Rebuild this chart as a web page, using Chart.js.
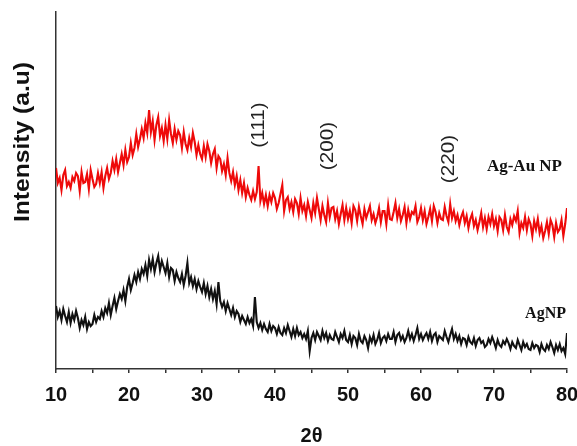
<!DOCTYPE html>
<html>
<head>
<meta charset="utf-8">
<script src="https://cdn.jsdelivr.net/npm/chart.js@4.4.1/dist/chart.umd.min.js"></script>
<style>
  html, body { margin: 0; padding: 0; background: #fff; }
  canvas { display: block; }
</style>
</head>
<body>
<canvas id="xrdChart" width="577" height="446"></canvas>
<script>
// scan grid: 2θ from 10 to 80 in 0.25 steps
const twoThetaStart = 10;
const twoThetaStep = 0.25;
const xTicks = [10, 20, 30, 40, 50, 60, 70, 80];

// Ag-Au NP intensity (a.u., offset trace), one group of 4 per degree
const agAuNP = [
  201, 186, 191, 179,  194, 199, 183, 187,  181, 192, 188, 196,  193, 178, 197, 186,
  187, 195, 180, 199,  190, 182, 185, 196,  186, 197, 181, 193,  201, 190, 196, 208,
  199, 210, 197, 206,  215, 204, 219, 207,  212, 226, 214, 221,  235, 222, 230, 240,
  231, 246, 236, 259,  237, 248, 229, 244,  252, 233, 241, 228,  244, 230, 249, 235,
  226, 240, 229, 238,  234, 221, 237, 225,  219, 231, 222, 236,  227, 214, 224, 215,
  210, 223, 212, 225,  218, 206, 215, 220,  201, 213, 210, 198,  205, 194, 211, 196,
  188, 197, 184, 193,  179, 189, 176, 186,  172, 181, 174, 169,  178, 170, 177, 203,
  168, 176, 165, 174,  163, 174, 167, 176,  171, 160, 166, 175,  184, 158, 169, 172,
  160, 167, 157, 170,  166, 155, 171, 158,  164, 153, 167, 159,  151, 166, 156, 171,
  160, 149, 163, 154,  147, 166, 152, 161,  162, 150, 158, 145,  155, 164, 149, 161,
  150, 158, 146, 163,  159, 148, 162, 153,  145, 160, 151, 157,  163, 149, 155, 146,
  152, 161, 147, 158,  158, 145, 164, 150,  149, 157, 166, 151,  160, 148, 154, 162,
  146, 159, 150, 157,  155, 163, 147, 152,  161, 149, 158, 145,  152, 160, 148, 163,
  157, 146, 156, 150,  149, 162, 153, 147,  165, 151, 158, 148,  154, 144, 152, 157,
  146, 153, 141, 150,  155, 143, 149, 139,  147, 156, 142, 151,  140, 152, 145, 155,
  143, 150, 138, 152,  149, 139, 154, 142,  137, 150, 144, 153,  148, 158, 136, 146,
  141, 152, 139, 150,  145, 133, 148, 140,  150, 136, 143, 131,  138, 147, 135, 149,
  144, 132, 146, 137,  140, 149, 133, 145,
  161
];

// AgNP intensity (a.u., offset trace)
const agNP = [
  63, 52, 58, 49,  60, 53, 47, 57,  46, 55, 49, 58,  51, 41, 49, 44,
  52, 40, 47, 43,  45, 54, 47, 52,  50, 58, 52, 61,  56, 66, 54, 63,
  71, 60, 68, 75,  70, 79, 68, 82,  90, 79, 86, 94,  87, 97, 90, 100,
  95, 104, 93, 109,  100, 110, 97, 106,  113, 99, 108, 102,  96, 106, 92, 101,
  99, 88, 97, 91,  87, 95, 84, 93,  106, 86, 92, 83,  90, 80, 88, 82,
  77, 86, 75, 83,  72, 80, 70, 78,  65, 87, 68, 62,  67, 58, 66, 60,
  54, 61, 52, 58,  55, 47, 53, 49,  45, 52, 46, 50,  43, 72, 47, 41,
  46, 39, 45, 40,  37, 45, 38, 43,  41, 35, 42, 36,  34, 41, 36, 44,
  38, 32, 40, 33,  41, 34, 37, 31,  35, 30, 38, 18,  31, 36, 29, 37,
  33, 29, 38, 31,  36, 28, 34, 30,  29, 37, 32, 27,  35, 31, 38, 29,
  27, 34, 25, 33,  31, 24, 35, 28,  26, 33, 29, 21,  32, 27, 34, 25,
  29, 36, 26, 31,  33, 28, 35, 30,  30, 37, 27, 34,  36, 29, 33, 27,
  31, 38, 30, 35,  28, 34, 41, 30,  35, 29, 33, 36,  30, 37, 28, 34,
  36, 27, 33, 31,  29, 38, 32, 27,  34, 40, 30, 35,  28, 33, 25, 31,
  30, 24, 32, 27,  25, 31, 23, 29,  31, 26, 28, 22,  24, 30, 26, 32,
  27, 21, 29, 24,  22, 28, 25, 30,  26, 20, 27, 23,  21, 29, 24, 19,
  27, 22, 25, 20,  19, 26, 21, 24,  23, 17, 25, 20,  18, 24, 20, 27,
  22, 16, 24, 19,  25, 18, 21, 15,
  36
];

// reflection labels: text, 2θ, intensity position
const peakLabels = [
  { text: "(111)", x: 37.8, y: 244 },
  { text: "(200)", x: 47.3, y: 223 },
  { text: "(220)", x: 63.8, y: 210 },
];

const seriesNames = ["Ag-Au NP", "AgNP"];

const toPoints = (vals) => vals.map((v, i) => ({ x: twoThetaStart + i * twoThetaStep, y: v }));

const textPlugin = {
  id: "xrdText",
  afterDraw(chart) {
    const { ctx, scales } = chart;
    const xs = scales.x, ys = scales.y;
    ctx.save();

    // peak indices
    ctx.fillStyle = "#222";
    ctx.font = "18px 'Liberation Sans', Arial, sans-serif";
    ctx.textAlign = "center";
    ctx.textBaseline = "middle";
    peakLabels.forEach((p) => {
      ctx.save();
      ctx.translate(xs.getPixelForValue(p.x), ys.getPixelForValue(p.y));
      ctx.rotate(-Math.PI / 2);
      ctx.scale(1.15, 1);
      ctx.fillText(p.text, 0, 0);
      ctx.restore();
    });

    // sample names
    ctx.fillStyle = "#111";
    ctx.textAlign = "right";
    ctx.font = "bold 17px 'Liberation Serif', 'Times New Roman', serif";
    ctx.fillText(seriesNames[0], 562, 167);
    ctx.font = "bold 16px 'Liberation Serif', 'Times New Roman', serif";
    ctx.fillText(seriesNames[1], 566, 314);

    // y axis title
    ctx.save();
    ctx.translate(23, 142);
    ctx.rotate(-Math.PI / 2);
    ctx.font = "bold 22px 'Liberation Sans', Arial, sans-serif";
    ctx.textAlign = "center";
    const w = ctx.measureText("Intensity (a.u)").width;
    ctx.scale(160 / w, 1);
    ctx.fillText("Intensity (a.u)", 0, 0);
    ctx.restore();

    ctx.restore();
  },
};

const ctx = document.getElementById("xrdChart").getContext("2d");
new Chart(ctx, {
  type: "line",
  data: {
    datasets: [
      { label: seriesNames[0], data: toPoints(agAuNP), borderColor: "#ee0a0a", borderWidth: 2.1 },
      { label: seriesNames[1], data: toPoints(agNP), borderColor: "#111111", borderWidth: 2.1 },
    ],
  },
  options: {
    responsive: false,
    animation: false,
    layout: { padding: { left: 0, top: 12, right: 10, bottom: 0 } },
    elements: { point: { radius: 0 }, line: { tension: 0 } },
    plugins: { legend: { display: false }, tooltip: { enabled: false } },
    scales: {
      x: {
        type: "linear",
        min: 10,
        max: 80,
        afterFit: (scale) => {
          scale.height = 77;
          scale.paddingLeft = 0;
          scale.paddingRight = 0;
        },
        border: { display: true, color: "#333", width: 1.5 },
        grid: { drawOnChartArea: false, drawTicks: true, tickLength: 4, color: "#333", lineWidth: 1.5 },
        ticks: {
          stepSize: 5,
          autoSkip: false,
          maxRotation: 0,
          padding: 10,
          color: "#111",
          font: { size: 20, weight: "bold", family: "'Liberation Sans', Arial, sans-serif" },
          callback: (v) => (xTicks.includes(v) ? v : ""),
        },
        title: {
          display: true,
          text: "2θ",
          color: "#111",
          padding: 0,
          font: { size: 20, weight: "bold", lineHeight: 1, family: "'Liberation Sans', Arial, sans-serif" },
        },
      },
      y: {
        min: 0,
        max: 357,
        afterFit: (scale) => { scale.width = 56; },
        border: { display: true, color: "#333", width: 1.5 },
        grid: { display: false },
        ticks: { display: false },
      },
    },
  },
  plugins: [textPlugin],
});
</script>
</body>
</html>
